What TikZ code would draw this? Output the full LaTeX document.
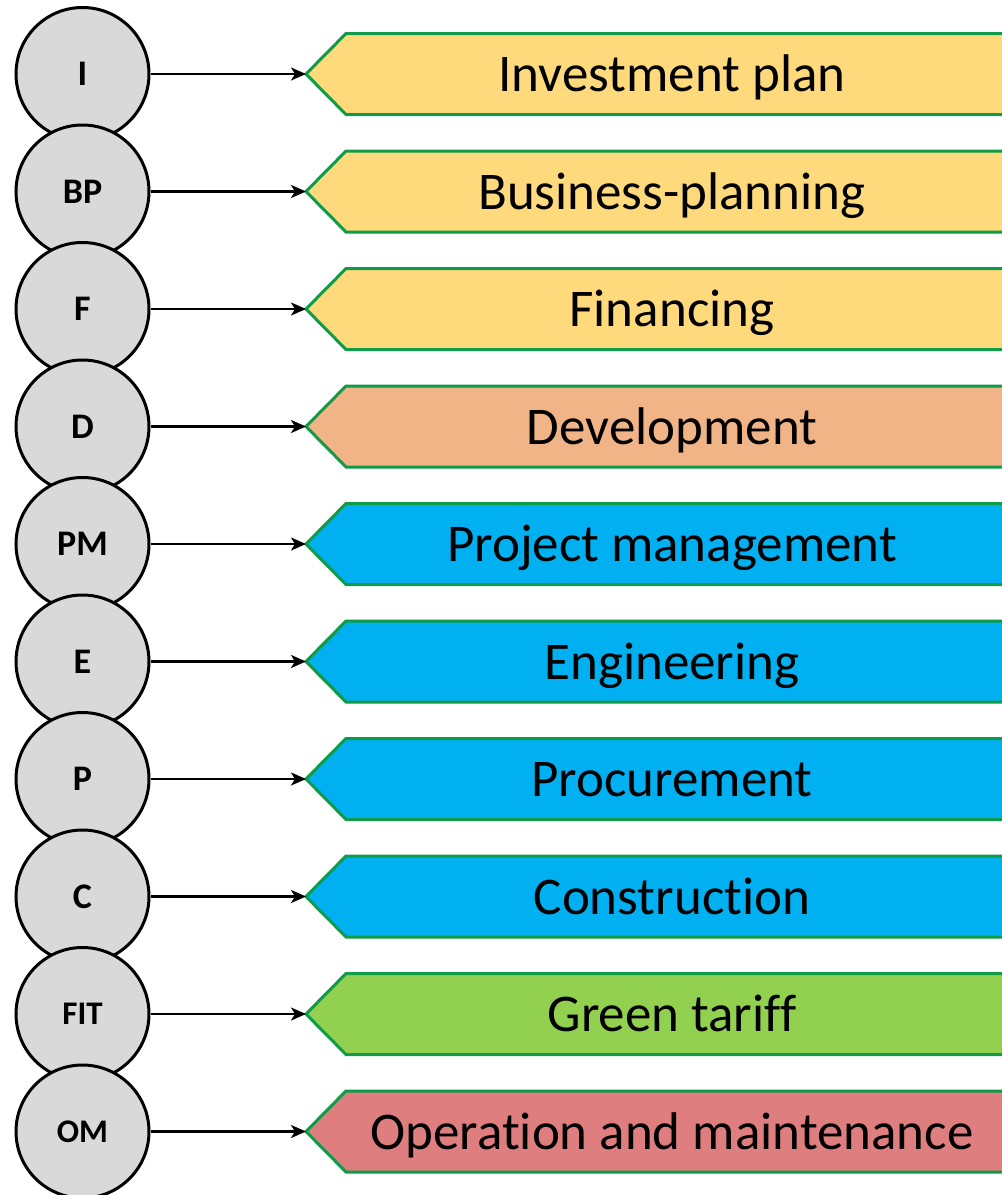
\documentclass[tikz,border=0pt]{standalone}
\usepackage{fontspec}
\setmainfont{Carlito}[Ligatures=NoCommon]
\usetikzlibrary{arrows.meta}
\definecolor{cyel}{RGB}{255,218,124}
\definecolor{corg}{RGB}{240,180,134}
\definecolor{cblu}{RGB}{0,176,240}
\definecolor{cgrn}{RGB}{146,208,80}
\definecolor{cred}{RGB}{222,126,126}
\definecolor{cbord}{RGB}{16,155,72}
\definecolor{cgray}{RGB}{217,217,217}
\tikzset{
  circ/.style={circle, draw=black, line width=3pt, fill=cgray, minimum size=133pt, inner sep=0pt, font=\fontsize{36}{42}\selectfont\bfseries},
  circs/.style={circ, font=\fontsize{33}{38}\selectfont\bfseries},
  banner/.style={draw=cbord, line width=3pt, line join=miter},
  lbl/.style={anchor=base, inner sep=0pt, font=\fontsize{53}{62}\selectfont},
  conn/.style={line width=2.4pt, -{Stealth[length=15pt,width=13pt,inset=4pt]}}
}
\newcommand{\bannerrow}[5]{%
  \fill[#3] (306,#2) -- (346,#2-40.5) -- (1045,#2-40.5) -- (1045,#2+40.5) -- (346,#2+40.5) -- cycle;
  \draw[banner] (1045,#2-40.5) -- (346,#2-40.5) -- (306,#2) -- (346,#2+40.5) -- (1045,#2+40.5);
  \coordinate (t#1) at (306,#2);
  \node[lbl] (l#1) at (672,#2+17.5) {#5};
}
\begin{document}
\begin{tikzpicture}[x=1pt,y=-1pt]
\useasboundingbox (0,0) rectangle (1002,1195);
\clip (0,0) rectangle (1002,1195);
\fill[white] (0,0) rectangle (1002,1195);
% banners
\bannerrow{1}{74}{cyel}{I}{Investment plan}
\bannerrow{2}{191.5}{cyel}{BP}{Business-planning}
\bannerrow{3}{309}{cyel}{F}{Financing}
\bannerrow{4}{426.5}{corg}{D}{Development}
\bannerrow{5}{544}{cblu}{PM}{Project management}
\bannerrow{6}{661.5}{cblu}{E}{Engineering}
\bannerrow{7}{779}{cblu}{P}{Procurement}
\bannerrow{8}{896.5}{cblu}{C}{Construction}
\bannerrow{9}{1014}{cgrn}{FIT}{Green tariff}
\bannerrow{10}{1131.5}{cred}{OM}{Operation and maintenance}
% circles
\node[circ] (c1) at (82.5,74) {I};
\node[circ] (c2) at (82.5,191.5) {BP};
\node[circ] (c3) at (82.5,309) {F};
\node[circ] (c4) at (82.5,426.5) {D};
\node[circ] (c5) at (82.5,544) {PM};
\node[circ] (c6) at (82.5,661.5) {E};
\node[circ] (c7) at (82.5,779) {P};
\node[circ] (c8) at (82.5,896.5) {C};
\node[circs] (c9) at (82.5,1014) {FIT};
\node[circs] (c10) at (82.5,1131.5) {OM};
% connectors
\foreach \i in {1,...,10}{
  \draw[conn] (c\i.east) -- (t\i);
}
\end{tikzpicture}
\end{document}
